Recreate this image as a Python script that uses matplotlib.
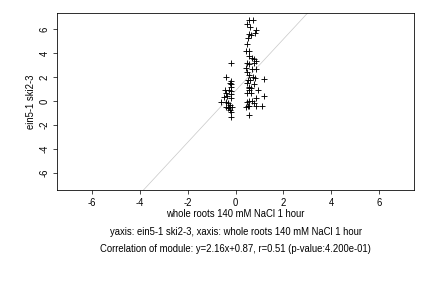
import matplotlib
matplotlib.use("Agg")
import matplotlib.pyplot as plt
import numpy as np

plt.rcParams['font.family'] = ['Liberation Sans', 'DejaVu Sans']

# data
x_vals = [-0.18, -0.38, -0.18, -0.18, -0.25, -0.18, -0.46, -0.28, -0.18, -0.39,
          -0.19, -0.50, -0.36, -0.18, -0.61, -0.42, -0.31, -0.22, -0.39, -0.28,
          -0.17, -0.33, -0.22, -0.18, -0.18,
          0.56, 0.71, 0.47, 0.61, 0.84, 0.54, 0.65, 0.82, 0.50, 0.49,
          0.45, 0.58, 0.58, 0.67, 0.78, 0.84, 0.47, 0.54, 0.75, 0.43,
          0.68, 0.84, 0.47, 0.54, 0.71, 0.82, 0.50, 0.61, 1.17, 0.47,
          0.78, 0.58, 0.54, 0.64, 0.54, 0.92, 0.46, 0.64, 1.17, 0.86,
          0.47, 0.54, 0.67, 0.75, 0.50, 0.45, 0.58, 0.86, 1.10, 0.58]
y_vals = [3.21, 1.98, 1.68, 1.42, 1.48, 1.15, 0.92, 0.92, 0.87, 0.64,
          0.56, 0.31, 0.42, 0.22, -0.11, -0.06, -0.20, -0.34, -0.47, -0.47,
          -0.53, -0.61, -0.75, -0.89, -1.37,
          6.79, 6.79, 6.45, 6.23, 5.95, 5.59, 5.50, 5.67, 5.31, 4.78,
          4.22, 4.22, 3.77, 3.58, 3.49, 3.38, 3.16, 3.10, 3.21, 2.79,
          2.65, 2.68, 2.46, 2.18, 2.04, 1.96, 1.76, 1.76, 1.84, 1.48,
          1.40, 1.15, 1.06, 1.06, 0.92, 0.92, 0.70, 0.70, 0.42, 0.22,
          -0.06, 0.00, 0.00, -0.14, -0.42, -0.53, -0.42, -0.42, -0.42, -1.17]
slope = 2.16
intercept = 0.87
xticks = [-6, -4, -2, 0, 2, 4, 6]
yticks = [-6, -4, -2, 0, 2, 4, 6]

fs = 9.5
fig = plt.figure(figsize=(6, 4), dpi=72)
ax = fig.add_axes([0.1327, 0.340, 0.8253, 0.616])
ax.set_xlim(-7.45, 7.45)
ax.set_ylim(-7.45, 7.4)

lx = np.array([-7.45, 7.45])
ax.plot(lx, slope * lx + intercept, color='#c8c8c8', lw=0.7, zorder=1)
ax.scatter(x_vals, y_vals, marker='+', s=30, color='black', linewidths=0.9, zorder=2)

ax.set_xticks(xticks)
ax.set_yticks(yticks)
ax.set_xticklabels([str(t) for t in xticks], fontsize=fs)
ax.set_yticklabels([str(t) for t in yticks], fontsize=fs, rotation=90, va='center')
ax.tick_params(direction='out', length=4, width=0.7, pad=4)
for s in ax.spines.values():
    s.set_linewidth(0.8)

ax.set_xlabel('whole roots 140 mM NaCl 1 hour', fontsize=fs, labelpad=1)
ax.set_ylabel('ein5-1 ski2-3', fontsize=fs, labelpad=3)

fig.text(0.5456, 1 - 232 / 288, 'yaxis: ein5-1 ski2-3, xaxis: whole roots 140 mM NaCl 1 hour',
         ha='center', va='center', fontsize=fs)
fig.text(0.5456, 1 - 249 / 288, 'Correlation of module: y=2.16x+0.87, r=0.51 (p-value:4.200e-01)',
         ha='center', va='center', fontsize=fs)

fig.savefig('out.png', dpi=72)
